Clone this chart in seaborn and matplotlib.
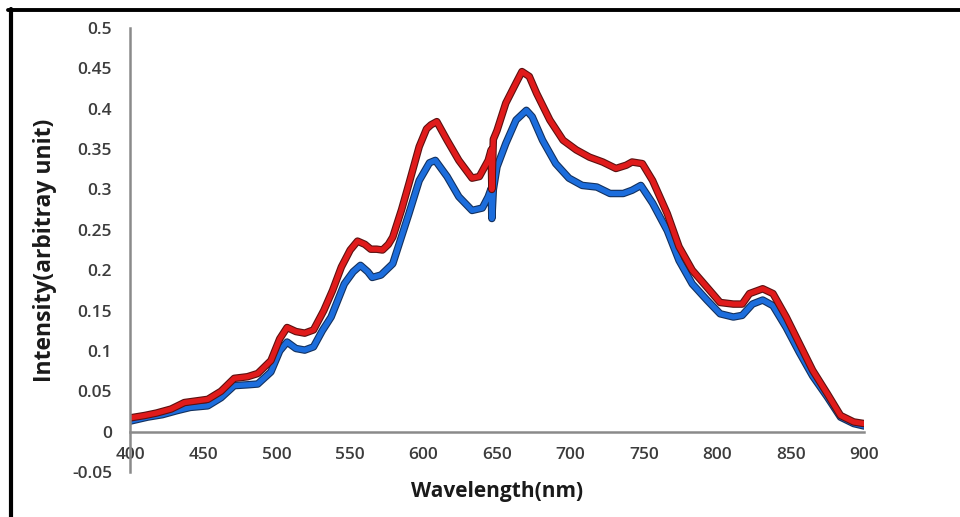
import numpy as np
import pandas as pd
import matplotlib
matplotlib.use("Agg")
import matplotlib.pyplot as plt
import matplotlib.patheffects as pe
from matplotlib.lines import Line2D
import seaborn as sns

# ---- data ----
red_wl = [400, 410, 418, 428, 437, 445, 453, 462, 471, 480, 487, 496, 502, 507, 513,
          519, 525, 532, 538, 544, 550, 555, 560, 564, 568, 572, 576, 579, 585, 590,
          597, 602, 605, 609, 616, 624, 633, 638, 644, 646, 646.5, 647.5, 650, 656,
          663, 667, 672, 677, 686, 695, 704, 713, 722, 731, 738, 742, 749, 756, 766,
          774, 783, 793, 802, 811, 817, 822, 831, 838, 847, 856, 865, 875, 884, 893, 900]
red_int = [0.017, 0.020, 0.023, 0.028, 0.036, 0.038, 0.040, 0.050, 0.066, 0.068, 0.072,
           0.088, 0.115, 0.129, 0.124, 0.122, 0.126, 0.150, 0.175, 0.204, 0.225, 0.236,
           0.232, 0.226, 0.226, 0.225, 0.232, 0.241, 0.275, 0.307, 0.353, 0.375, 0.380,
           0.384, 0.361, 0.336, 0.314, 0.316, 0.336, 0.349, 0.300, 0.362, 0.373, 0.407,
           0.432, 0.446, 0.440, 0.419, 0.386, 0.361, 0.349, 0.340, 0.334, 0.326, 0.330,
           0.334, 0.332, 0.311, 0.270, 0.229, 0.200, 0.179, 0.160, 0.158, 0.158, 0.171,
           0.177, 0.171, 0.142, 0.109, 0.076, 0.047, 0.020, 0.012, 0.010]

blue_wl = [400, 412, 422, 432, 441, 453, 462, 471, 480, 487, 496, 502, 507, 513, 519,
           525, 531, 537, 546, 552, 557, 562, 565, 571, 579, 590, 597, 604, 608, 616,
           624, 633, 640, 644, 646, 646.5, 647.5, 650, 656, 663, 670, 674, 681, 690,
           699, 708, 718, 727, 736, 742, 748, 756, 766, 774, 783, 793, 802, 811, 817,
           824, 831, 838, 847, 856, 865, 875, 884, 893, 900]
blue_int = [0.013, 0.018, 0.021, 0.026, 0.030, 0.032, 0.042, 0.057, 0.058, 0.059, 0.074,
            0.100, 0.111, 0.103, 0.101, 0.105, 0.125, 0.142, 0.183, 0.198, 0.206, 0.198,
            0.191, 0.194, 0.208, 0.270, 0.311, 0.333, 0.336, 0.316, 0.291, 0.274, 0.277,
            0.291, 0.301, 0.264, 0.300, 0.328, 0.357, 0.386, 0.398, 0.390, 0.361, 0.332,
            0.314, 0.305, 0.303, 0.295, 0.295, 0.299, 0.305, 0.283, 0.249, 0.212, 0.183,
            0.163, 0.146, 0.142, 0.144, 0.158, 0.163, 0.156, 0.129, 0.098, 0.069, 0.043,
            0.018, 0.010, 0.007]

x_ticks = [400, 450, 500, 550, 600, 650, 700, 750, 800, 850, 900]
y_ticks = [-0.05, 0, 0.05, 0.1, 0.15, 0.2, 0.25, 0.3, 0.35, 0.4, 0.45, 0.5]
y_tick_labels = ["-0.05", "0", "0.05", "0.1", "0.15", "0.2", "0.25", "0.3", "0.35",
                 "0.4", "0.45", "0.5"]
x_label = "Wavelength(nm)"
y_label = "Intensity(arbitray unit)"

# ---- plotting ----
sns.set_style("white")
plt.rcParams["font.family"] = ["Open Sans", "DejaVu Sans"]

fig = plt.figure(figsize=(9.6, 5.17), dpi=100)
ax = fig.add_axes([130 / 960, 1 - 472 / 517, (864 - 130) / 960, (472 - 28) / 517])

df_blue = pd.DataFrame({"wl": blue_wl, "val": blue_int})
df_red = pd.DataFrame({"wl": red_wl, "val": red_int})

sns.lineplot(data=df_blue, x="wl", y="val", ax=ax, color="#1c6ddc", lw=3.8,
             estimator=None, sort=False,
             path_effects=[pe.Stroke(linewidth=5.4, foreground="#13315e"), pe.Normal()])
sns.lineplot(data=df_red, x="wl", y="val", ax=ax, color="#e01b1b", lw=3.8,
             estimator=None, sort=False,
             path_effects=[pe.Stroke(linewidth=5.4, foreground="#5c1010"), pe.Normal()])

ax.set_xlim(400, 900)
ax.set_ylim(-0.05, 0.5)
ax.set_xticks(x_ticks)
ax.set_yticks(y_ticks)
ax.set_yticklabels(y_tick_labels)

for s in ["top", "right"]:
    ax.spines[s].set_visible(False)
ax.spines["bottom"].set_position(("data", 0))
for s in ["left", "bottom"]:
    ax.spines[s].set_color("#8a8a8a")
    ax.spines[s].set_linewidth(1.8)

ax.tick_params(axis="both", length=0, labelsize=12.5, labelcolor="#3c3c3c")
ax.tick_params(axis="y", pad=13)
ax.tick_params(axis="x", pad=11)
for lab in ax.get_xticklabels() + ax.get_yticklabels():
    lab.set_fontweight("semibold")

ax.set_xlabel("")
ax.set_ylabel("")
fig.text(497 / 960, 1 - 491 / 517, x_label, ha="center", va="center",
         fontsize=15, fontweight="bold", color="#1a1a1a")
fig.text(45 / 960, 1 - 250 / 517, y_label, ha="center", va="center", rotation=90,
         fontsize=16.5, fontweight="bold", color="#1a1a1a")

# outer frame (top and left visible in the reference)
fig.add_artist(Line2D([8 / 960, 1.0], [1 - 10 / 517, 1 - 10 / 517],
                      transform=fig.transFigure, color="black", lw=2.8))
fig.add_artist(Line2D([10.5 / 960, 10.5 / 960], [0.0, 1 - 8.5 / 517],
                      transform=fig.transFigure, color="black", lw=3.0))

fig.savefig("out.png", dpi=100)
